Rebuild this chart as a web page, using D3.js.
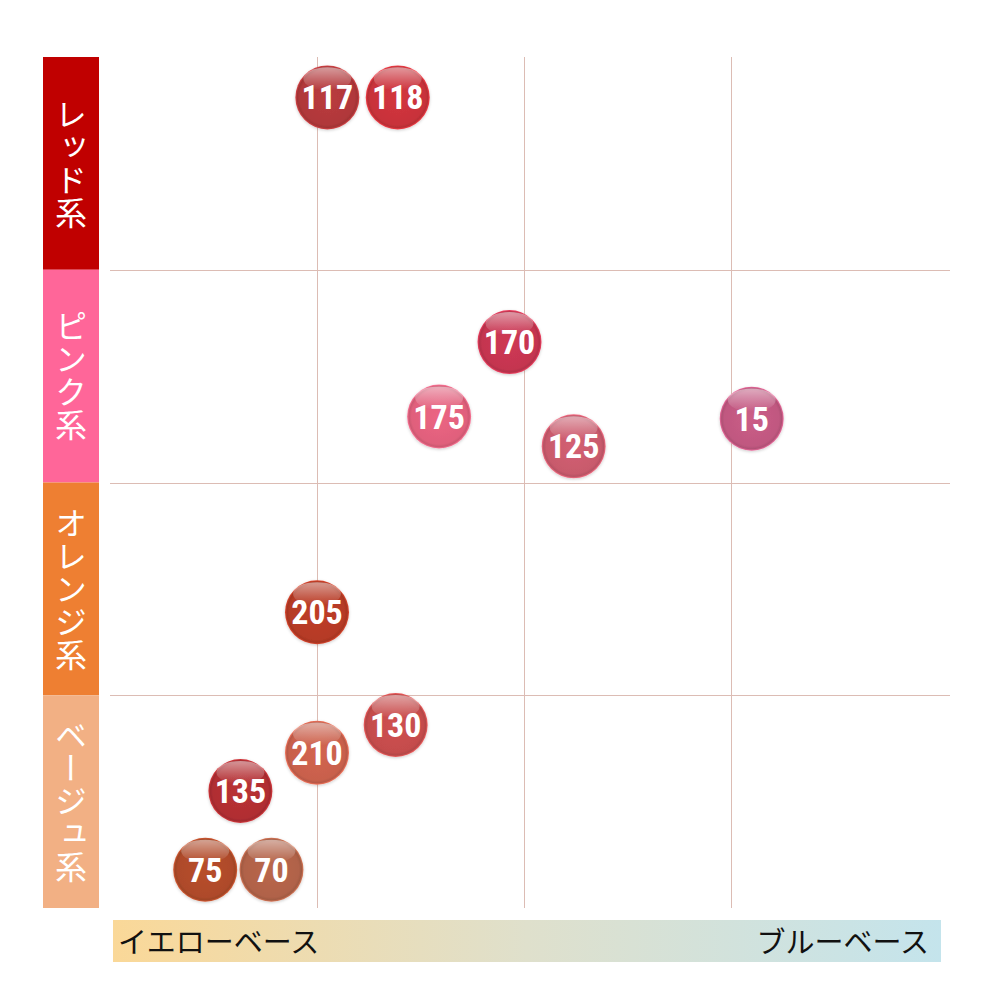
<!DOCTYPE html>
<html><head><meta charset="utf-8">
<script src="https://cdn.jsdelivr.net/npm/d3@7"></script>
<style>body{margin:0;background:#fff}svg{display:block}</style>
</head><body>
<svg id="chart" width="1000" height="1000"></svg>
<script>
// ---- data ----
const categories = ["レッド系", "ピンク系", "オレンジ系", "ベージュ系"];
const categoryColors = ["#c00000", "#ff6699", "#ee7f32", "#f2b084"];
const axisLabels = ["イエローベース", "ブルーベース"];
const shadeNames = ["117", "118", "170", "175", "125", "15", "205", "130", "210", "135", "75", "70"];
const shadeX = [1.05, 1.39, 1.93, 1.59, 2.24, 3.10, 1.00, 1.38, 1.00, 0.63, 0.46, 0.78];
const shadeY = [0.19, 0.19, 1.34, 1.69, 1.83, 1.70, 2.61, 3.14, 3.27, 3.45, 3.82, 3.82];
const shadeColors = ["#b0383a", "#c8323a", "#c43550", "#e0607c", "#c85a6c", "#c05880", "#b53a25", "#c44c4c", "#c8604c", "#b02e32", "#ae4a2a", "#b06248"];

const svg = d3.select("#chart");
const x = d3.scaleLinear().domain([0, 4]).range([110, 938]);
const y = d3.scaleLinear().domain([0, 4]).range([57, 908]);
const band = d3.scaleBand().domain(categories).range([57, 908]);

// category bars
const cat = svg.append("g");
cat.selectAll("rect").data(categories).join("rect")
  .attr("x", 43).attr("width", 56)
  .attr("y", d => band(d)).attr("height", band.bandwidth())
  .attr("fill", (d, i) => categoryColors[i]);
cat.selectAll("text").data(categories).join("text")
  .attr("x", 71).attr("y", d => band(d) + band.bandwidth() / 2)
  .attr("text-anchor", "middle")
  .style("writing-mode", "vertical-rl")
  .attr("font-family", "'Noto Sans CJK JP', sans-serif")
  .attr("font-size", 32).attr("fill", "#fff")
  .attr("letter-spacing", 1)
  .text(d => d);

// grid
const grid = svg.append("g").attr("stroke", "#dcbcb4").attr("stroke-width", 1);
grid.selectAll("line.h").data([1, 2, 3]).join("line").attr("class", "h")
  .attr("x1", 110).attr("x2", 950)
  .attr("y1", d => Math.round(y(d)) + 0.5).attr("y2", d => Math.round(y(d)) + 0.5);
grid.selectAll("line.v").data([1, 2, 3]).join("line").attr("class", "v")
  .attr("y1", 57).attr("y2", 908)
  .attr("x1", d => Math.round(x(d)) + 0.5).attr("x2", d => Math.round(x(d)) + 0.5);

// bottom gradient axis
const defs = svg.append("defs");
const lg = defs.append("linearGradient").attr("id", "axisGrad");
lg.append("stop").attr("offset", "0%").attr("stop-color", "#fad898");
lg.append("stop").attr("offset", "50%").attr("stop-color", "#dfe0cc");
lg.append("stop").attr("offset", "100%").attr("stop-color", "#c4e4ec");
svg.append("rect").attr("x", 113).attr("y", 920).attr("width", 828).attr("height", 42)
  .attr("fill", "url(#axisGrad)");
svg.append("text").attr("x", 118).attr("y", 953)
  .attr("font-family", "'Noto Sans CJK JP', sans-serif").attr("font-size", 29).attr("fill", "#111")
  .text(axisLabels[0]);
svg.append("text").attr("x", 929).attr("y", 953).attr("text-anchor", "end")
  .attr("font-family", "'Noto Sans CJK JP', sans-serif").attr("font-size", 29).attr("fill", "#111")
  .text(axisLabels[1]);

// bubble gradients
shadeColors.forEach((c, i) => {
  const g = defs.append("radialGradient").attr("id", "bg" + i)
    .attr("cx", "50%").attr("cy", "50%").attr("r", "50%");
  g.append("stop").attr("offset", "0%").attr("stop-color", d3.color(c).brighter(0.15));
  g.append("stop").attr("offset", "86%").attr("stop-color", c);
  g.append("stop").attr("offset", "94%").attr("stop-color", d3.color(c).darker(0.25));
  g.append("stop").attr("offset", "100%").attr("stop-color", d3.color(c).brighter(0.6));
});
const hg = defs.append("linearGradient").attr("id", "hl").attr("x1", 0).attr("y1", 0).attr("x2", 0).attr("y2", 1);
hg.append("stop").attr("offset", "0%").attr("stop-color", "#fff").attr("stop-opacity", 0.5);
hg.append("stop").attr("offset", "100%").attr("stop-color", "#fff").attr("stop-opacity", 0);
const sf = defs.append("filter").attr("id", "sh").attr("x", "-30%").attr("y", "-30%").attr("width", "160%").attr("height", "160%");
sf.append("feDropShadow").attr("dx", 0).attr("dy", 1).attr("stdDeviation", 1.5).attr("flood-color", "#000").attr("flood-opacity", 0.2);

const R = 32;
const bubbles = svg.append("g").selectAll("g").data(shadeNames).join("g")
  .attr("transform", (d, i) => `translate(${x(shadeX[i])},${y(shadeY[i])})`);
bubbles.append("circle").attr("r", R).attr("fill", (d, i) => `url(#bg${i})`).attr("filter", "url(#sh)");
bubbles.append("ellipse").attr("cx", 0).attr("cy", -R * 0.58).attr("rx", R * 0.75).attr("ry", R * 0.36)
  .attr("fill", "url(#hl)");
bubbles.append("text").attr("text-anchor", "middle").attr("y", 12)
  .attr("font-family", "'Liberation Sans Narrow', 'Roboto Condensed', Roboto, sans-serif")
  .attr("font-weight", "bold").attr("font-size", 34).attr("fill", "#fff")
  .text(d => d);
</script>
</body></html>
